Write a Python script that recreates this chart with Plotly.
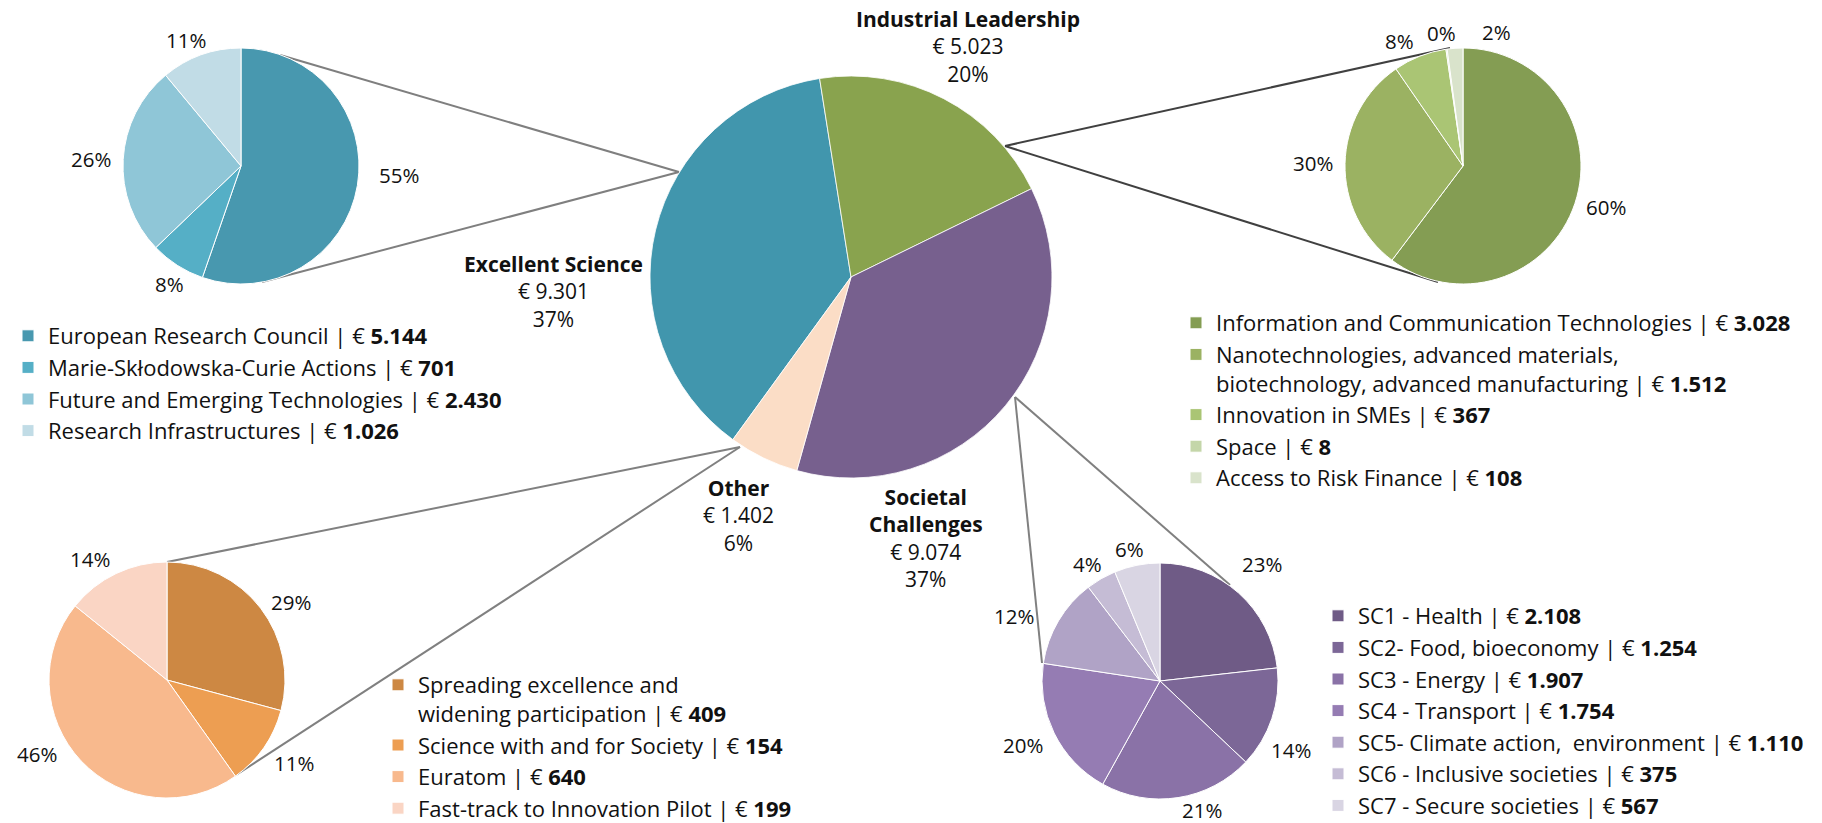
import math
import plotly.graph_objects as go

# ---- data -------------------------------------------------------------
main_names = ["Excellent Science", "Industrial Leadership", "Societal<br>Challenges", "Other"]
main_values = [9301, 5023, 9074, 1402]
main_pct = [37, 20, 37, 6]
main_colors = ["#4196AD", "#89A34E", "#77608E", "#FBDDC6"]

es_names = ["European Research Council", "Marie-Skłodowska-Curie Actions",
            "Future and Emerging Technologies", "Research Infrastructures"]
es_values = [5144, 701, 2430, 1026]
es_pct = [55, 8, 26, 11]
es_colors = ["#4898AF", "#55AFC6", "#8FC6D7", "#C1DCE6"]

il_names = ["Information and Communication Technologies",
            "Nanotechnologies, advanced materials,<br>biotechnology, advanced manufacturing",
            "Innovation in SMEs", "Space", "Access to Risk Finance"]
il_values = [3028, 1512, 367, 8, 108]
il_pct = [60, 30, 8, 0, 2]
il_colors = ["#849D53", "#9BB262", "#AAC574", "#C4D6A9", "#D9E3CB"]

sc_names = ["SC1 - Health", "SC2- Food, bioeconomy", "SC3 - Energy", "SC4 - Transport",
            "SC5- Climate action,\u00a0 environment", "SC6 - Inclusive societies",
            "SC7 - Secure societies"]
sc_values = [2108, 1254, 1907, 1754, 1110, 375, 567]
sc_pct = [23, 14, 21, 20, 12, 4, 6]
sc_colors = ["#6F5B86", "#7C6797", "#8A72A7", "#957CB3", "#B0A3C6", "#C5BCD5", "#D9D5E3"]

ot_names = ["Spreading excellence and<br>widening participation", "Science with and for Society",
            "Euratom", "Fast-track to Innovation Pilot"]
ot_values = [409, 154, 640, 199]
ot_pct = [29, 11, 46, 14]
ot_colors = ["#CD8843", "#ED9E52", "#F8B98D", "#FAD5C4"]

# ---- layout helpers (reference pixel coords -> paper) -----------------
W, H = 1822, 823
FONT = "Open Sans"
TXT = "#111111"


def px(x):
    return x / W


def py(y):
    return 1 - y / H


def euro(v):
    return f"{v:,}".replace(",", ".")


def domain(cx, cy, r):
    return dict(x=[px(cx - r), px(cx + r)], y=[py(cy + r), py(cy - r)])


def pct_labels(cx, cy, r, values, pcts, rot=0, gap=10, nudge=None):
    """percentage labels just outside each slice, at its mid angle"""
    nudge = nudge or {}
    total = sum(values)
    acc = 0
    anns = []
    for i, (v, p) in enumerate(zip(values, pcts)):
        mid = math.radians(rot) + (acc + v / 2) / total * 2 * math.pi
        acc += v
        dx, dy = math.sin(mid), -math.cos(mid)
        x = cx + (r + gap) * dx
        y = cy + (r + gap) * dy
        xa = "left" if dx > 0.3 else "right" if dx < -0.3 else "center"
        ya = "top" if dy > 0.7 else "bottom" if dy < -0.7 else "middle"
        if ya == "bottom":
            y += 10
        nx, ny = nudge.get(i, (0, 0))
        anns.append(dict(x=px(x + nx), y=py(y + ny), xref="paper", yref="paper",
                         text=f"{p}%", showarrow=False, xanchor=xa, yanchor=ya,
                         font=dict(family=FONT, size=20.5, color=TXT)))
    return anns


fig = go.Figure()

# main pie
MAIN = (851, 277, 201)
fig.add_trace(go.Pie(
    labels=[n.replace("<br>", " ") for n in main_names], values=main_values,
    marker=dict(colors=main_colors, line=dict(color="white", width=0.8)),
    sort=False, direction="clockwise", rotation=-144,
    textinfo="none", showlegend=False, domain=domain(*MAIN),
))

subs = [
    # names, values, pct, colors, centre, legend id
    (es_names, es_values, es_pct, es_colors, (241, 166), "legend"),
    (il_names, il_values, il_pct, il_colors, (1463, 166), "legend2"),
    (ot_names, ot_values, ot_pct, ot_colors, (167, 680), "legend3"),
    (sc_names, sc_values, sc_pct, sc_colors, (1160, 681), "legend4"),
]
SUB_R = 118
label_nudges = {
    "legend": {0: (10, -12), 1: (14, -6), 3: (10, 0)},
    "legend2": {3: (-4, 0), 4: (42, 0)},
    "legend3": {1: (0, 10), 2: (-15, -14)},
    "legend4": {0: (-5, -16), 1: (-12, 28), 2: (22, -13), 3: (0, 8), 4: (-14, 0),
                5: (8, 0), 6: (-6, 0)},
}
annotations = []
for names, values, pcts, colors, (cx, cy), leg in subs:
    fig.add_trace(go.Pie(
        labels=[f"{n} | € <b>{euro(v)}</b>" for n, v in zip(names, values)],
        values=values,
        marker=dict(colors=colors, line=dict(color="white", width=1)),
        sort=False, direction="clockwise", rotation=0,
        textinfo="none", legend=leg, domain=domain(cx, cy, SUB_R),
    ))
    annotations += pct_labels(cx, cy, SUB_R, values, pcts, nudge=label_nudges.get(leg))

# main pie labels
main_label_pos = [(553, 291), (968, 47), (926, 538), (738, 515)]
for name, v, p, (x, y) in zip(main_names, main_values, main_pct, main_label_pos):
    annotations.append(dict(
        x=px(x), y=py(y), xref="paper", yref="paper", showarrow=False,
        text=f"<b>{name}</b><br>€ {euro(v)}<br>{p}%", align="center",
        xanchor="center", yanchor="middle",
        font=dict(family=FONT, size=21, color=TXT)))

# connector lines between the main pie and the detail pies
connectors = [
    ((280, 55), (679, 172), "#7F7F7F"), ((262, 282), (679, 172), "#7F7F7F"),
    ((1450, 48), (1005, 146), "#404040"), ((1438, 282), (1005, 146), "#404040"),
    ((167, 562), (740, 447), "#808080"), ((236, 775), (740, 447), "#808080"),
    ((1042, 663), (1015, 397), "#808080"), ((1230, 585), (1015, 397), "#808080"),
]
shapes = [dict(type="line", xref="paper", yref="paper", x0=px(a[0]), y0=py(a[1]),
               x1=px(b[0]), y1=py(b[1]), line=dict(color=c, width=2), layer="below")
          for a, b, c in connectors]


def legend_at(x, y):
    return dict(x=px(x), y=py(y), xanchor="left", yanchor="top", valign="top",
                bgcolor="rgba(0,0,0,0)", font=dict(family=FONT, size=22, color=TXT),
                itemclick=False, itemdoubleclick=False)


fig.update_layout(
    width=W, height=H,
    # legends must not push the margins, otherwise the paper area shrinks
    margin=dict(l=0, r=0, t=0, b=0, autoexpand=False),
    paper_bgcolor="white", plot_bgcolor="white",
    annotations=annotations, shapes=shapes,
    legend=legend_at(8, 315),
    legend2=legend_at(1176, 302),
    legend3=legend_at(378, 664),
    legend4=legend_at(1318, 595),
)

# the page body has an 8px default margin; drop it so the figure fills the window
fig.write_html("out.html", config={"displayModeBar": False},
               post_script="document.body.style.margin='0px';")
